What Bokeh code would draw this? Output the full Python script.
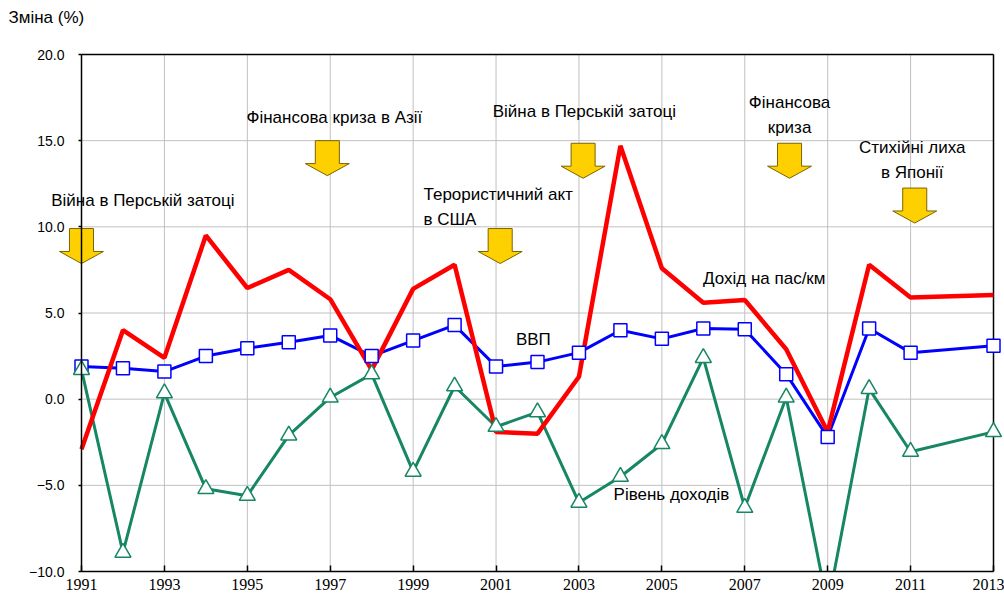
from bokeh.plotting import figure
from bokeh.models import FixedTicker, LinearAxis
from bokeh.core.properties import value
from bokeh.embed import file_html
from bokeh.resources import INLINE

# ---- data ----
years = [1991, 1992, 1993, 1994, 1995, 1996, 1997, 1998, 1999, 2000, 2001,
         2002, 2003, 2004, 2005, 2006, 2007, 2008, 2009, 2010, 2011, 2013]
income_pkm = [-2.9, 4.0, 2.4, 9.5, 6.45, 7.5, 5.8, 1.7, 6.4, 7.8, -1.9,
              -2.0, 1.3, 14.7, 7.6, 5.6, 5.75, 2.9, -1.9, 7.8, 5.9, 6.05]
gdp = [1.9, 1.8, 1.6, 2.5, 2.95, 3.3, 3.7, 2.5, 3.4, 4.3, 1.9,
       2.15, 2.7, 4.0, 3.5, 4.1, 4.05, 1.45, -2.2, 4.1, 2.7, 3.1]
income_level = [1.7, -8.9, 0.35, -5.2, -5.6, -2.1, 0.1, 1.45, -4.2, 0.75, -1.6,
                -0.75, -6.0, -4.5, -2.6, 2.4, -6.3, 0.1, -12.0, 0.6, -3.05, -1.9]

x_ticks = [1991, 1993, 1995, 1997, 1999, 2001, 2003, 2005, 2007, 2009, 2011, 2013]
y_ticks = [-10, -5, 0, 5, 10, 15, 20]
y_tick_labels = ["\u221210.0", "\u22125.0", "0.0", "5.0", "10.0", "15.0", "20.0"]

# events: arrow anchor (year, top value), label position and text
event_years = [1991.0, 1996.93, 2001.1, 2003.1, 2008.08, 2011.1]
event_tops = [9.9, 15.0, 9.9, 14.85, 14.85, 12.25]
event_text = ["Війна в Перській затоці", "Фінансова криза в Азії",
              "Терористичний акт\nв США", "Війна в Перській затоці",
              "Фінансова\nкриза", "Стихійні лиха\nв Японії"]
event_text_x = [1992.48, 1997.1, 1999.25, 2003.13, 2008.08, 2011.04]
event_text_y = [11.55, 16.37, 11.17, 16.72, 16.51, 13.87]
event_align = ["center", "center", "left", "center", "center", "center"]

series_names = ["Дохід на пас/км", "ВВП", "Рівень доходів"]
series_label_x = [2007.47, 2001.9, 2005.23]
series_label_y = [7.02, 3.45, -5.51]

axis_title = "Зміна (%)"

RED = "#FF0000"
BLUE = "#0000FF"
GREEN = "#168664"
FONT = "Liberation Sans"

X0, X1 = x_ticks[0], x_ticks[-1]
Y0, Y1 = y_ticks[0], y_ticks[-1]
# the frame spans the whole canvas so that annotations near the edges are not clipped
px_per_year = 912 / (X1 - X0)
px_per_unit = 517 / (Y1 - Y0)
x_start = X0 - 81 / px_per_year
x_end = X1 + 11 / px_per_year
y_top = Y1 + 54 / px_per_unit
y_bottom = Y0 - 29 / px_per_unit

p = figure(width=1004, height=600, x_range=(x_start, x_end), y_range=(y_bottom, y_top),
           output_backend="svg", toolbar_location=None, y_axis_location=None,
           min_border_left=0, min_border_right=0, min_border_top=0,
           min_border_bottom=0)
p.background_fill_color = "white"
p.border_fill_color = "white"
p.outline_line_color = None
p.grid.visible = False

# grid and box drawn within the data box
p.segment(x0=[X0] * len(y_ticks), y0=y_ticks, x1=[X1] * len(y_ticks), y1=y_ticks,
          line_color="#C0C0C0", line_width=1)
p.segment(x0=x_ticks, y0=[Y0] * len(x_ticks), x1=x_ticks, y1=[Y1] * len(x_ticks),
          line_color="#C0C0C0", line_width=1)
p.segment(x0=[X0, X1], y0=[Y1, Y0], x1=[X1, X1], y1=[Y1, Y1],
          line_color="black", line_width=1.5)

# lines
p.line(years, gdp, line_color=BLUE, line_width=3)
p.line(years, income_level, line_color=GREEN, line_width=3)
p.line(years, income_pkm, line_color=RED, line_width=4.5)
p.scatter(years, gdp, marker="square", size=13, fill_color="white",
          line_color=BLUE, line_width=1.5)
p.scatter(years, income_level, marker="triangle", size=16, fill_color="white",
          line_color=GREEN, line_width=1.5)

# mask below the data box (values below -10 are cut off as in the original)
p.quad(left=[x_start], right=[x_end], bottom=[y_bottom], top=[Y0],
       fill_color="white", line_color=None)

# x axis fixed at -10
p.xaxis.fixed_location = Y0
p.xaxis.ticker = FixedTicker(ticks=x_ticks)
p.xaxis.bounds = (X0, X1)
p.xaxis.minor_tick_line_color = None
p.xaxis.major_tick_in = 6
p.xaxis.major_tick_out = 0
p.xaxis.axis_line_width = 1.5
p.xaxis.axis_line_color = "black"
p.xaxis.major_tick_line_width = 1.5
p.xaxis.major_label_text_font = "Liberation Serif"
p.xaxis.major_label_text_font_size = "16px"
p.xaxis.major_label_text_color = "black"
p.xaxis.major_label_standoff = 7

# y axis fixed at 1991
yaxis = LinearAxis(fixed_location=X0, ticker=FixedTicker(ticks=y_ticks),
                   bounds=(Y0, Y1))
yaxis.major_label_overrides = {t: l for t, l in zip(y_ticks, y_tick_labels)}
yaxis.minor_tick_line_color = None
yaxis.major_tick_in = 0
yaxis.major_tick_out = 3
yaxis.axis_line_width = 1.5
yaxis.axis_line_color = "black"
yaxis.major_tick_line_width = 1.5
yaxis.major_label_text_font = FONT
yaxis.major_label_text_font_size = "14px"
yaxis.major_label_text_color = "black"
yaxis.major_label_standoff = 14
p.add_layout(yaxis, "left")

# arrows (shape offsets in data units)
sw, hw, sh, hh = 0.29, 0.53, 1.33, 0.70
xs, ys = [], []
for ex, et in zip(event_years, event_tops):
    xs.append([ex - sw, ex + sw, ex + sw, ex + hw, ex, ex - hw, ex - sw])
    ys.append([et, et, et - sh, et - sh, et - sh - hh, et - sh, et - sh])
p.patches(xs, ys, fill_color="#FFD000", line_color="#7A6400", line_width=1)

for tx, ty, t, a in zip(event_text_x, event_text_y, event_text, event_align):
    p.text([tx], [ty], text=[t], text_align=a, text_baseline="middle",
           text_font=value(FONT), text_font_size="17px", text_color="black",
           text_line_height=1.33)

p.text(series_label_x, series_label_y, text=series_names, text_align="center",
       text_baseline="middle", text_font=value(FONT), text_font_size="17px",
       text_color="black")

p.text([x_start + 8 / px_per_year], [Y1 + 37 / px_per_unit], text=[axis_title],
       text_align="left", text_baseline="middle", text_font=value(FONT),
       text_font_size="17px", text_color="black")

open("out.html", "w").write(file_html(p, INLINE))
